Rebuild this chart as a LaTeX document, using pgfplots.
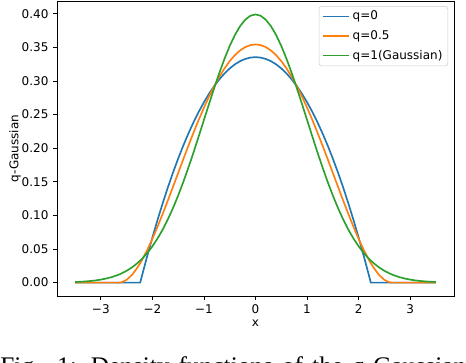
\documentclass[border=0pt]{standalone}
\usepackage{fontspec}
\setmainfont{DejaVu Sans}
\newfontfamily\capfont{Liberation Serif}
\usepackage{pgfplots}
\usepackage{pgfplotstable}
\pgfplotsset{compat=1.18}

\definecolor{tabblue}{HTML}{1F77B4}
\definecolor{taborange}{HTML}{FF7F0E}
\definecolor{tabgreen}{HTML}{2CA02C}

% q-Gaussian densities (unit variance)
\pgfplotstableread{
x       q0      q05     q1
-3.5    0       0       0.00087
-3.4    0       0       0.00123
-3.3    0       0       0.00172
-3.2    0       0       0.00238
-3.1    0       0       0.00327
-3.0    0       0       0.00443
-2.9    0       0       0.00595
-2.8    0       0       0.00792
-2.7    0       0       0.01042
-2.6458 0       0       0.01205
-2.6    0       0.00042 0.01358
-2.5    0       0.00407 0.01753
-2.4    0       0.01112 0.02239
-2.3    0       0.02115 0.02833
-2.2361 0       0.02893 0.03275
-2.2    0.01073 0.03374 0.03547
-2.1    0.03958 0.04851 0.04398
-2.0    0.06708 0.06508 0.05399
-1.9    0.09324 0.08311 0.06562
-1.8    0.11806 0.10224 0.07895
-1.7    0.14154 0.12215 0.09405
-1.6    0.16368 0.14256 0.11092
-1.5    0.18448 0.16316 0.12952
-1.4    0.20393 0.18369 0.14973
-1.3    0.22204 0.20390 0.17137
-1.2    0.23881 0.22355 0.19419
-1.1    0.25424 0.24243 0.21785
-1.0    0.26833 0.26033 0.24197
-0.9    0.28107 0.27708 0.26609
-0.8    0.29248 0.29251 0.28969
-0.7    0.30254 0.30647 0.31225
-0.6    0.31126 0.31883 0.33322
-0.5    0.31864 0.32948 0.35207
-0.4    0.32468 0.33833 0.36827
-0.3    0.32937 0.34529 0.38139
-0.2    0.33273 0.35030 0.39104
-0.1    0.33474 0.35333 0.39695
0.0     0.33541 0.35434 0.39894
0.1     0.33474 0.35333 0.39695
0.2     0.33273 0.35030 0.39104
0.3     0.32937 0.34529 0.38139
0.4     0.32468 0.33833 0.36827
0.5     0.31864 0.32948 0.35207
0.6     0.31126 0.31883 0.33322
0.7     0.30254 0.30647 0.31225
0.8     0.29248 0.29251 0.28969
0.9     0.28107 0.27708 0.26609
1.0     0.26833 0.26033 0.24197
1.1     0.25424 0.24243 0.21785
1.2     0.23881 0.22355 0.19419
1.3     0.22204 0.20390 0.17137
1.4     0.20393 0.18369 0.14973
1.5     0.18448 0.16316 0.12952
1.6     0.16368 0.14256 0.11092
1.7     0.14154 0.12215 0.09405
1.8     0.11806 0.10224 0.07895
1.9     0.09324 0.08311 0.06562
2.0     0.06708 0.06508 0.05399
2.1     0.03958 0.04851 0.04398
2.2     0.01073 0.03374 0.03547
2.2361  0       0.02893 0.03275
2.3     0       0.02115 0.02833
2.4     0       0.01112 0.02239
2.5     0       0.00407 0.01753
2.6     0       0.00042 0.01358
2.6458  0       0       0.01205
2.7     0       0       0.01042
2.8     0       0       0.00792
2.9     0       0       0.00595
3.0     0       0       0.00443
3.1     0       0       0.00327
3.2     0       0       0.00238
3.3     0       0       0.00172
3.4     0       0       0.00123
3.5     0       0       0.00087
}\qgauss

\begin{document}
\begin{tikzpicture}
\begin{axis}[
    scale only axis,
    width=297.75pt,
    height=221.25pt,
    xmin=-3.85, xmax=3.85,
    ymin=-0.01995, ymax=0.4189,
    xtick={-3,-2,-1,0,1,2,3},
    xticklabels={−3,−2,−1,0,1,2,3},
    ytick={0,0.05,0.1,0.15,0.2,0.25,0.3,0.35,0.4},
    yticklabels={0.00,0.05,0.10,0.15,0.20,0.25,0.30,0.35,0.40},
    /pgf/number format/assume math mode=true,
    tick pos=left,
    tick align=outside,
    major tick length=2.9pt,
    every tick/.style={black, line width=0.65pt},
    axis line style={line width=0.65pt},
    tick label style={font=\fontsize{9}{10.8}\selectfont},
    label style={font=\fontsize{9}{10.8}\selectfont},
    xlabel={x},
    ylabel={q-Gaussian},
    xlabel style={at={(axis description cs:0.5,-0.0915)}, anchor=center},
    ylabel style={at={(axis description cs:-0.1058,0.5)}, anchor=center},
    legend cell align=left,
    legend image code/.code={\draw[#1] (0pt,0pt) -- (20pt,0pt);},
    legend style={
        at={(0.985,0.983)},
        anchor=north east,
        draw=black!20,
        rounded corners=2pt,
        fill=white,
        fill opacity=0.8,
        text opacity=1,
        font=\fontsize{9}{10.8}\selectfont,
        inner xsep=2pt,
        inner ysep=1.5pt,
        row sep=2.5pt
    }
]
\addplot[tabblue, line width=1.25pt] table[x=x, y=q0] {\qgauss};
\addplot[taborange, line width=1.25pt] table[x=x, y=q05] {\qgauss};
\addplot[tabgreen, line width=1.25pt] table[x=x, y=q1] {\qgauss};
\legend{q=0, q=0.5, q=1(Gaussian)}
\coordinate (SW) at (rel axis cs:0,0);
\end{axis}
\node[anchor=north west, inner sep=0pt, font=\capfont\fontsize{19}{22}\selectfont]
    at ([xshift=-42.75pt, yshift=-45pt]SW)
    {\makebox[349.5pt][s]{Fig. 1: Density functions of the q-Gaussian}};
\pgfresetboundingbox
\path[use as bounding box] ([xshift=-42.75pt, yshift=-49.5pt]SW) rectangle ++(349.5pt, 271.5pt);
\end{tikzpicture}
\end{document}
